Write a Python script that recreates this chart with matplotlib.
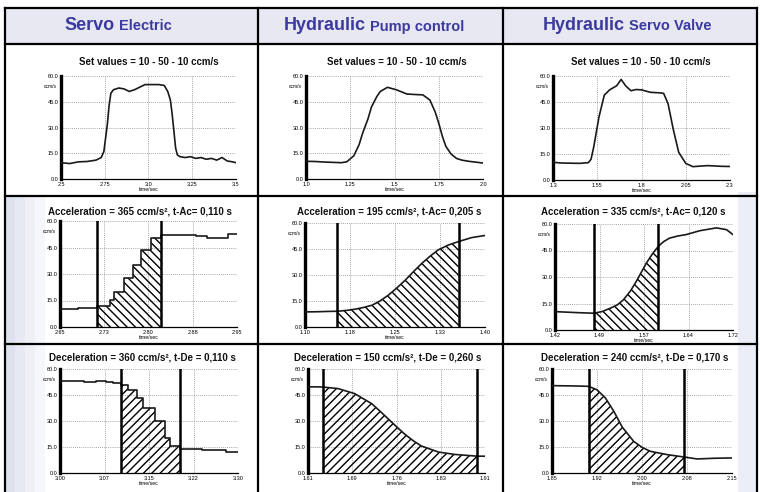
import numpy as np
import matplotlib
matplotlib.use("Agg")
import matplotlib.pyplot as plt
from matplotlib.lines import Line2D
from matplotlib.patches import Rectangle
from matplotlib.offsetbox import TextArea, HPacker, AnnotationBbox

plt.rcParams["font.family"] = ["Liberation Sans", "DejaVu Sans"]
plt.rcParams["hatch.linewidth"] = 1.0

W, H = 760, 492

# column headers
head_main = ["Servo", "Hydraulic", "Hydraulic"]
head_sub = ["Electric", "Pump control", "Servo Valve"]

# row titles
set_titles = ["Set values = 10 - 50 - 10 ccm/s"] * 3
acc_titles = ["Acceleration = 365 ccm/s², t-Ac= 0,110 s",
              "Acceleration = 195 ccm/s², t-Ac= 0,205 s",
              "Acceleration = 335 ccm/s², t-Ac= 0,120 s"]
dec_titles = ["Deceleration = 360 ccm/s², t-De = 0,110 s",
              "Deceleration = 150 ccm/s², t-De = 0,260 s",
              "Deceleration = 240 ccm/s², t-De = 0,170 s"]

y_ticks = [0, 15, 30, 45, 60]
y_labels = ["0.0", "15.0", "30.0", "45.0", "60.0"]

# --- row 1: set values ---
se_set_t = [2.50, 2.55, 2.60, 2.65, 2.70, 2.73, 2.745, 2.755, 2.765, 2.775, 2.785, 2.80,
            2.83, 2.86, 2.89, 2.92, 2.95, 2.98, 3.00, 3.03, 3.06, 3.09, 3.11, 3.125,
            3.135, 3.145, 3.155, 3.165, 3.18, 3.21, 3.24, 3.27, 3.30, 3.33, 3.36, 3.39,
            3.42, 3.45, 3.48, 3.50]
se_set_v = [9.5, 9.0, 10.0, 10.2, 11.0, 12.5, 16.0, 24.0, 32.0, 43.0, 50.0, 52.0,
            53.0, 52.5, 51.0, 52.0, 53.5, 55.0, 55.0, 55.0, 55.0, 54.5, 51.0, 46.0,
            38.0, 28.0, 18.0, 14.0, 13.0, 12.5, 13.0, 12.0, 12.5, 11.5, 12.0, 11.0,
            12.5, 10.5, 10.0, 9.5]
se_set_xt = [2.5, 2.75, 3.0, 3.25, 3.5]
se_set_xl = ["2.5", "2.75", "3.0", "3.25", "3.5"]

pc_set_t = [1.00, 1.05, 1.10, 1.15, 1.20, 1.23, 1.27, 1.30, 1.32, 1.35, 1.37, 1.40,
            1.42, 1.46, 1.51, 1.57, 1.62, 1.66, 1.70, 1.73, 1.75, 1.77, 1.79, 1.82,
            1.85, 1.88, 1.92, 1.96, 2.00]
pc_set_v = [10.3, 10.2, 9.9, 9.7, 9.5, 10.0, 13.5, 20.0, 26.7, 35.0, 42.0, 48.0,
            51.0, 53.4, 52.0, 49.5, 49.2, 49.0, 46.0, 39.0, 32.5, 25.0, 19.0, 14.5,
            12.0, 11.0, 10.3, 9.8, 9.3]
pc_set_xt = [1.0, 1.25, 1.5, 1.75, 2.0]
pc_set_xl = ["1.0", "1.25", "1.5", "1.75", "2.0"]

sv_set_t = [1.30, 1.35, 1.40, 1.45, 1.50, 1.515, 1.53, 1.56, 1.59, 1.62, 1.66, 1.685,
            1.71, 1.74, 1.77, 1.80, 1.85, 1.90, 1.925, 1.95, 1.98, 2.01, 2.05, 2.09,
            2.13, 2.175, 2.25, 2.30]
sv_set_v = [10.2, 9.8, 9.7, 9.6, 10.0, 12.0, 19.0, 36.5, 49.0, 52.0, 54.4, 58.0,
            54.4, 51.5, 52.2, 52.0, 50.6, 50.3, 50.0, 44.0, 29.0, 16.0, 9.6, 7.7,
            8.0, 8.3, 7.9, 7.8]
sv_set_xt = [1.3, 1.55, 1.8, 2.05, 2.3]
sv_set_xl = ["1.3", "1.55", "1.8", "2.05", "2.3"]

# --- row 2: acceleration ---
se_acc_t = [2.650, 2.665, 2.680, 2.695, 2.712, 2.734, 2.742, 2.758, 2.773, 2.788,
            2.804, 2.822, 2.840, 2.860, 2.880, 2.900, 2.920, 2.935, 2.950]
se_acc_v = [10.0, 10.3, 10.6, 11.0, 11.8, 15.5, 20.0, 27.5, 35.0, 43.5,
            50.2, 52.0, 52.3, 52.0, 51.5, 50.2, 50.5, 52.5, 52.5]
se_acc_marks = [2.712, 2.822]
se_acc_xt = [2.65, 2.725, 2.80, 2.875, 2.95]
se_acc_xl = ["2.65", "2.73", "2.80", "2.88", "2.95"]

pc_acc_t = [1.10, 1.12, 1.14, 1.154, 1.17, 1.184, 1.198, 1.212, 1.225, 1.239, 1.253,
            1.267, 1.281, 1.295, 1.309, 1.322, 1.339, 1.356, 1.378, 1.40]
pc_acc_v = [8.7, 8.8, 9.0, 9.1, 9.6, 10.3, 11.3, 12.6, 15.0, 18.4, 22.5,
            27.0, 32.0, 36.8, 41.0, 44.5, 47.3, 49.3, 51.6, 52.8]
pc_acc_marks = [1.154, 1.356]
pc_acc_xt = [1.10, 1.175, 1.25, 1.325, 1.40]
pc_acc_xl = ["1.10", "1.18", "1.25", "1.33", "1.40"]

sv_acc_t = [1.42, 1.44, 1.46, 1.486, 1.50, 1.513, 1.525, 1.535, 1.547, 1.557, 1.566,
            1.574, 1.584, 1.594, 1.603, 1.613, 1.627, 1.641, 1.664, 1.692, 1.709, 1.72]
sv_acc_v = [10.4, 10.1, 9.8, 9.5, 10.5, 12.3, 14.2, 17.0, 22.0, 27.5, 33.0,
            37.9, 43.0, 47.3, 50.0, 52.0, 53.2, 54.0, 56.2, 57.8, 56.8, 54.0]
sv_acc_marks = [1.486, 1.594]
sv_acc_xt = [1.42, 1.495, 1.57, 1.645, 1.72]
sv_acc_xl = ["1.42", "1.49", "1.57", "1.64", "1.72"]

# --- row 3: deceleration ---
se_dec_t = [3.000, 3.020, 3.040, 3.060, 3.078, 3.090, 3.102, 3.115, 3.129, 3.140,
            3.160, 3.177, 3.185, 3.202, 3.220, 3.240, 3.260, 3.280, 3.300]
se_dec_v = [52.9, 52.9, 52.7, 52.8, 52.5, 51.9, 51.0, 48.0, 43.3, 37.5,
            29.8, 20.2, 15.4, 14.0, 13.8, 13.5, 13.2, 12.4, 11.9]
se_dec_marks = [3.102, 3.202]
se_dec_xt = [3.00, 3.075, 3.15, 3.225, 3.30]
se_dec_xl = ["3.00", "3.07", "3.15", "3.22", "3.30"]

pc_dec_t = [1.61, 1.625, 1.635, 1.661, 1.689, 1.718, 1.732, 1.746, 1.760, 1.774,
            1.788, 1.802, 1.831, 1.859, 1.897, 1.91]
pc_dec_v = [49.7, 49.7, 49.6, 48.7, 45.8, 40.0, 35.7, 31.2, 26.7, 22.4,
            18.7, 15.6, 12.1, 10.7, 9.7, 9.7]
pc_dec_marks = [1.635, 1.897]
pc_dec_xt = [1.61, 1.685, 1.76, 1.835, 1.91]
pc_dec_xl = ["1.61", "1.69", "1.76", "1.83", "1.91"]

sv_dec_t = [1.85, 1.87, 1.89, 1.911, 1.925, 1.939, 1.953, 1.967, 1.986, 2.000,
            2.014, 2.042, 2.0706, 2.092, 2.12, 2.15]
sv_dec_v = [50.4, 50.3, 50.2, 50.0, 48.0, 43.3, 35.6, 26.5, 18.3, 14.8,
            12.5, 10.6, 9.2, 8.1, 8.5, 8.7]
sv_dec_marks = [1.911, 2.0706]
sv_dec_xt = [1.85, 1.925, 2.00, 2.075, 2.15]
sv_dec_xl = ["1.85", "1.92", "2.00", "2.08", "2.15"]


def fx(x):
    return x / W


def fy(y):
    return 1 - y / H


fig = plt.figure(figsize=(7.6, 4.92), dpi=100, facecolor="white")

# slide background: soft fades behind the table
fig.add_artist(Rectangle((fx(5), fy(43)), fx(752), 35 / H, transform=fig.transFigure,
                         facecolor="#e8e8f3", edgecolor="none", zorder=0))
for i, col in enumerate(["#dde2ee", "#e5e9f2", "#eef0f6", "#f6f7fa"]):
    fig.add_artist(Rectangle((fx(5 + i * 10), fy(492)), fx(10), 296 / H,
                             transform=fig.transFigure, facecolor=col,
                             edgecolor="none", zorder=0))
fig.add_artist(Rectangle((fx(738), fy(492)), fx(19), 300 / H, transform=fig.transFigure,
                         facecolor="#eceef7", edgecolor="none", zorder=0))

# table lines
line_kw = dict(transform=fig.transFigure, color="black", linewidth=1.6, zorder=5)
for yy in [8, 43.5, 196, 344]:
    fig.add_artist(Line2D([fx(5), fx(757)], [fy(yy), fy(yy)], **line_kw))
for xx in [5, 258, 503, 757]:
    fig.add_artist(Line2D([fx(xx), fx(xx)], [fy(8), fy(492)], **line_kw))

# headers
head_x = [118, 374, 627]
for main, sub, hx in zip(head_main, head_sub, head_x):
    box = HPacker(children=[
        TextArea(main, textprops=dict(fontsize=13, fontweight="bold", color="#3b3a9e")),
        TextArea(sub, textprops=dict(fontsize=10.5, fontweight="bold", color="#3b3a9e")),
    ], align="baseline", pad=0, sep=3)
    ab = AnnotationBbox(box, (fx(hx), fy(26)), xycoords="figure fraction",
                        frameon=False, box_alignment=(0.5, 0.5))
    fig.add_artist(ab)

panels = [
    # row, col, t, v, marks, xticks, xlabels, hatch, steps
    (0, 0, se_set_t, se_set_v, None, se_set_xt, se_set_xl, None, False),
    (0, 1, pc_set_t, pc_set_v, None, pc_set_xt, pc_set_xl, None, False),
    (0, 2, sv_set_t, sv_set_v, None, sv_set_xt, sv_set_xl, None, False),
    (1, 0, se_acc_t, se_acc_v, se_acc_marks, se_acc_xt, se_acc_xl, "\\\\\\\\", True),
    (1, 1, pc_acc_t, pc_acc_v, pc_acc_marks, pc_acc_xt, pc_acc_xl, "\\\\\\\\", False),
    (1, 2, sv_acc_t, sv_acc_v, sv_acc_marks, sv_acc_xt, sv_acc_xl, "\\\\\\\\", False),
    (2, 0, se_dec_t, se_dec_v, se_dec_marks, se_dec_xt, se_dec_xl, "////", True),
    (2, 1, pc_dec_t, pc_dec_v, pc_dec_marks, pc_dec_xt, pc_dec_xl, "////", False),
    (2, 2, sv_dec_t, sv_dec_v, sv_dec_marks, sv_dec_xt, sv_dec_xl, "////", False),
]

# axes boxes in pixels: left, top, right, bottom
boxes = [
    [(61, 76, 236, 179), (306, 76, 483, 179), (553, 76, 730, 180)],
    [(60, 221, 237, 327), (305, 223, 485, 327), (555, 224, 733, 330)],
    [(60, 369, 238, 473), (308, 369, 485, 473), (552, 369, 732, 473)],
]
titles = [set_titles, acc_titles, dec_titles]
title_x = [[149, 397, 641], [140, 389, 633], [142, 388, 635]]
title_y = [62, 211, 357]

for r, c, t, v, marks, xt, xl, hatch, steps in panels:
    l, tp, rt, b = boxes[r][c]
    ax = fig.add_axes([fx(l), fy(b), (rt - l) / W, (b - tp) / H])
    ax.set_facecolor("white")
    t = np.array(t)
    v = np.array(v)
    ds = "steps-post" if steps else "default"
    ax.plot(t, v, color="#1a1a1a", linewidth=1.2, drawstyle=ds, zorder=3)
    if marks is not None:
        m = (t >= marks[0]) & (t <= marks[1])
        ax.fill_between(t, v, 0, where=m, step="post" if steps else None,
                        facecolor="none", edgecolor="black", hatch=hatch,
                        linewidth=0, zorder=2)
        for mk in marks:
            ax.axvline(mk, color="black", linewidth=1.8, zorder=4)
    ax.set_xlim(xt[0], xt[-1])
    ax.set_ylim(0, 60)
    ax.set_xticks(xt)
    ax.set_xticklabels(xl)
    ax.set_yticks(y_ticks)
    ax.set_yticklabels(y_labels)
    ax.tick_params(length=0, labelsize=4, pad=2)
    ax.grid(True, linestyle=(0, (1, 1.5)), color="#8a8a8a", linewidth=0.6)
    for s in ["top", "right"]:
        ax.spines[s].set_visible(False)
    ax.spines["left"].set_linewidth(2.4)
    ax.spines["bottom"].set_linewidth(0.9)
    ax.set_xlabel("time/sec", fontsize=3.8, labelpad=0.5)
    ax.text(-0.025, 0.9, "ccm/s", transform=ax.transAxes, ha="right", va="center",
            fontsize=3.5)
    fig.text(fx(title_x[r][c]), fy(title_y[r]), titles[r][c], ha="center", va="center",
             fontsize=7, fontweight="bold", color="#111111")

fig.savefig("out.png", dpi=100)
